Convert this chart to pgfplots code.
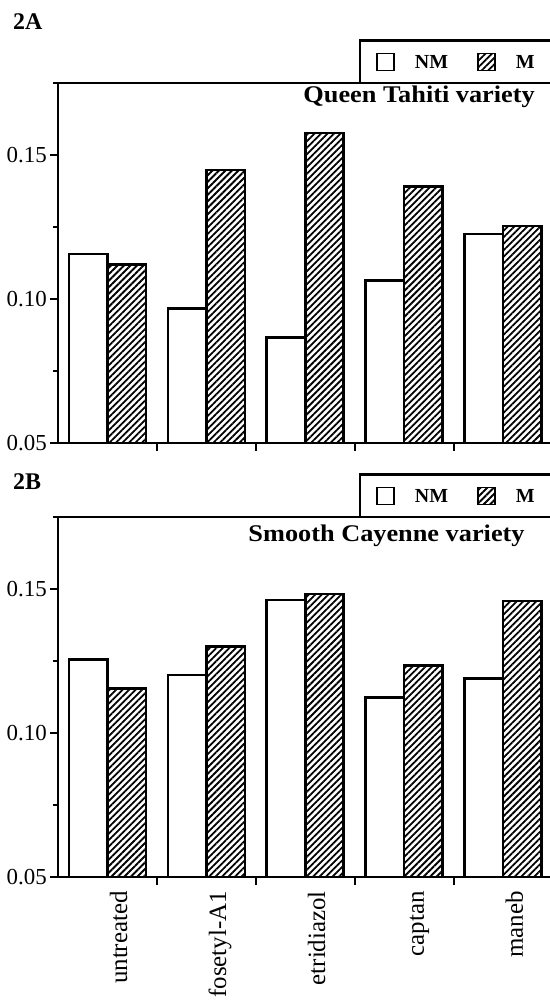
\documentclass[border=0pt]{standalone}
\usepackage{fontspec}
\setmainfont{Liberation Serif}
\usepackage{graphicx}
\usepackage{pgfplots}
\pgfplotsset{compat=1.18}
\usetikzlibrary{patterns.meta}
\pgfplotsset{
  panel/.style={
    scale only axis, width=494.5bp, height=360bp,
    xmin=-0.5, xmax=4.5, ymin=0.05, ymax=0.175,
    axis x line*=box, axis y line*=left,
    tick pos=left, tick align=outside,
    axis line style={line width=2.8bp},
    tick style={black, line width=2bp},
    major tick length=8bp, minor tick length=5bp,
    ytick={0.05,0.10,0.15}, yticklabels={0.05,0.10,0.15},
    minor ytick={0.075,0.125,0.175},
    yticklabel style={font=\fontsize{23}{23}\selectfont, inner sep=0pt},
    yticklabel shift=3bp,
    xticklabel shift=14bp,
    ybar=0pt, bar width=38.5bp,
    xtick={0.5,1.5,2.5,3.5}, xticklabels={},
    legend columns=2,
    legend image code/.code={\draw[##1,/tikz/.cd,line width=1.8bp] (0bp,-8bp) rectangle (17bp,9bp);},
    legend style={at={(0.6087,1)}, anchor=south west, yshift=-1.5bp, draw=black, line width=2.2bp,
       inner xsep=16bp, inner ysep=12bp,
       font=\fontsize{20}{20}\selectfont\bfseries,
       nodes={inner sep=0pt},
       /tikz/every odd column/.append style={column sep=20bp},
       /tikz/every even column/.append style={column sep=29bp}},
  },
  nmbar/.style={fill=white, draw=black, line width=2.6bp},
  mbar/.style={draw=black, line width=2.6bp, pattern={Lines[angle=45,distance=4.6bp,line width=1.8bp]}, pattern color=black},
}
\begin{document}
\begin{tikzpicture}
\path[use as bounding box] (0bp,0bp) rectangle (550bp,1001bp);
\node[anchor=base west, inner sep=0pt, font=\fontsize{24}{24}\selectfont\bfseries] at (13bp,971bp) {2A};
\node[anchor=base west, inner sep=0pt, font=\fontsize{24}{24}\selectfont\bfseries] at (13bp,511bp) {2B};
\begin{axis}[panel, at={(58bp,558bp)}, anchor=south west]
\addplot[nmbar] coordinates {(0,0.1156) (1,0.0968) (2,0.0867) (3,0.1064) (4,0.1225)};
\addplot[mbar] coordinates {(0,0.1119) (1,0.1448) (2,0.1577) (3,0.1390) (4,0.1253)};
\legend{NM,M}
\node[anchor=base east, inner sep=0pt, font=\fontsize{24}{24}\selectfont\bfseries] at (rel axis cs:0.9646,0.947) {\scalebox{1.1}[1]{Queen Tahiti variety}};
\end{axis}
\begin{axis}[panel, at={(58bp,124bp)}, anchor=south west,
  extra x ticks={0.2,1.2,2.2,3.2,4.2},
  extra x tick labels={untreated,fosetyl-A1,etridiazol,captan,maneb},
  extra x tick style={major tick length=0pt, xticklabel style={rotate=90, anchor=base east, inner sep=0pt, font=\fontsize{25}{25}\selectfont}}]
\addplot[nmbar] coordinates {(0,0.1256) (1,0.1201) (2,0.1462) (3,0.1124) (4,0.1190)};
\addplot[mbar] coordinates {(0,0.1155) (1,0.1300) (2,0.1483) (3,0.1234) (4,0.1458)};
\legend{NM,M}
\node[anchor=base east, inner sep=0pt, font=\fontsize{24}{24}\selectfont\bfseries] at (rel axis cs:0.944,0.9306) {\scalebox{1.1}[1]{Smooth Cayenne variety}};
\end{axis}
\end{tikzpicture}
\end{document}
